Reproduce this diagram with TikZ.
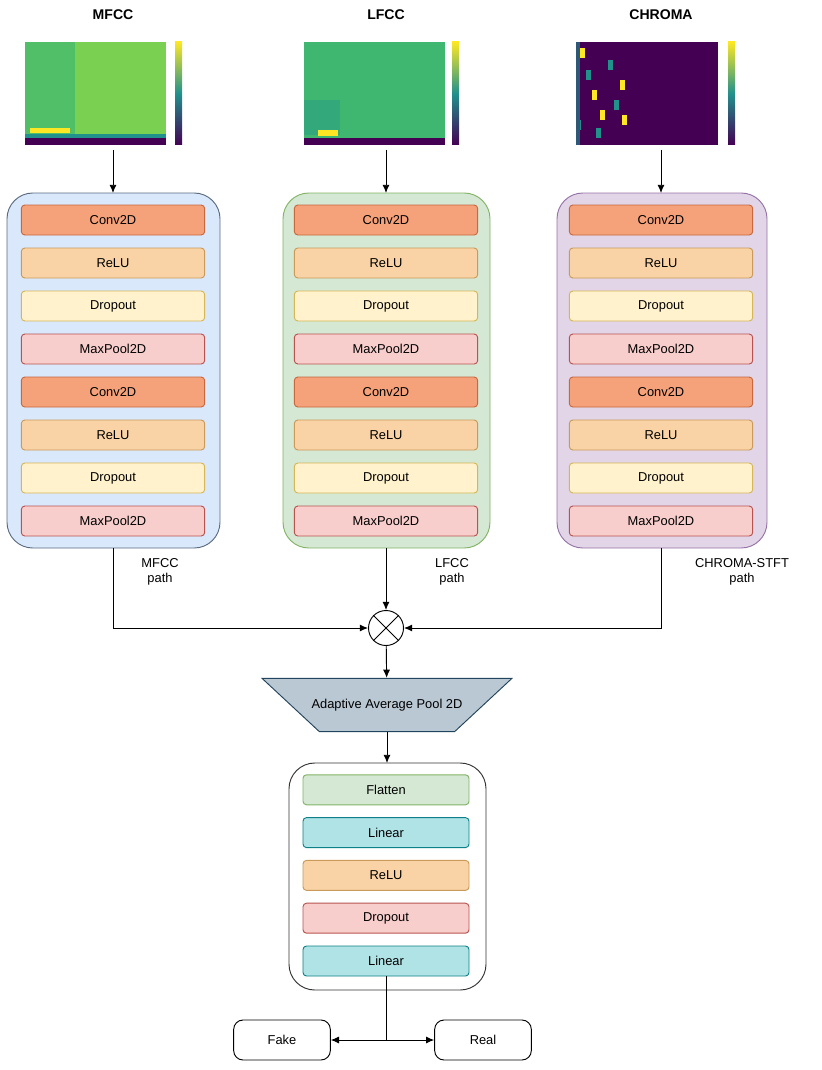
\documentclass[tikz,border=0pt]{standalone}
\usepackage{fontspec}
\setmainfont{Liberation Sans}
\usetikzlibrary{arrows.meta, calc, positioning, shapes.geometric}

\definecolor{convF}{HTML}{F5A27A}\definecolor{convD}{HTML}{C7683F}
\definecolor{reluF}{HTML}{F9D3A5}\definecolor{reluD}{HTML}{C99A5A}
\definecolor{dropF}{HTML}{FFF2CC}\definecolor{dropD}{HTML}{D6B656}
\definecolor{poolF}{HTML}{F8CECC}\definecolor{poolD}{HTML}{B85450}
\definecolor{flatF}{HTML}{D5E8D4}\definecolor{flatD}{HTML}{82B366}
\definecolor{linF}{HTML}{B0E3E6}\definecolor{linD}{HTML}{0E8088}
\definecolor{blueF}{HTML}{DAE8FC}\definecolor{blueD}{HTML}{5A6B80}
\definecolor{purpF}{HTML}{E1D5E7}\definecolor{purpD}{HTML}{9673A6}
\definecolor{trapF}{HTML}{BAC8D3}\definecolor{trapD}{HTML}{23445D}
\definecolor{vYel}{HTML}{FDE725}\definecolor{vTeal}{HTML}{21918C}
\definecolor{vPur}{HTML}{440154}\definecolor{vGrn}{HTML}{7AD151}
\definecolor{vGrn2}{HTML}{3FB770}

\tikzset{
  layer/.style={draw=#1D, fill=#1F, rounded corners=3pt, thick,
    minimum width=5.5cm, minimum height=0.9cm, font=\fontsize{11}{13}\selectfont},
  cont/.style={rounded corners=22pt, thick},
  lbl/.style={font=\fontsize{11}{13}\selectfont, align=center},
  arr/.style={-{Latex[length=7pt,width=6pt]}, thick},
  cbar/.style={top color=vYel, bottom color=vPur, middle color=vTeal},
}

\begin{document}
\begin{tikzpicture}[x=0.03cm, y=-0.03cm]
	\useasboundingbox (0,0) rectangle (822,1070);

	% titles
	\node[font=\bfseries\fontsize{12}{14}\selectfont] (tm) at (113,15) {MFCC};
	\node[font=\bfseries\fontsize{12}{14}\selectfont] (tl) at (386,15) {LFCC};
	\node[font=\bfseries\fontsize{12}{14}\selectfont] (tc) at (661,15) {CHROMA};

	% spectrograms
	\fill[vGrn] (25,42) rectangle (166,145);
	\fill[vGrn2!70!vGrn] (25,42) rectangle (75,135);
	\fill[vYel] (30,128) rectangle (70,133);
	\fill[vTeal] (25,134) rectangle (166,138);
	\fill[vPur] (25,138) rectangle (166,145);
	\shade[cbar] (175,42) rectangle (182,145);
	\coordinate (sm) at (113,150);

	\fill[vGrn2] (304,42) rectangle (445,145);
	\fill[vGrn2!60!vTeal] (304,100) rectangle (340,135);
	\fill[vYel] (318,130) rectangle (338,136);
	\fill[vPur] (304,138) rectangle (445,145);
	\shade[cbar] (452,42) rectangle (459,145);
	\coordinate (sl) at (386,150);

	\fill[vPur] (576,42) rectangle (718,145);
	\foreach \c/\yy/\col in {580/48/vYel, 586/70/vTeal, 592/90/vYel, 600/110/vYel, 608/60/vTeal,
	                         614/100/vTeal, 620/80/vYel, 576/120/vTeal, 596/128/vTeal, 622/115/vYel}
		\fill[\col] (\c,\yy) rectangle ++(5,10);
	\fill[vTeal!60!vPur] (576,42) rectangle (580,145);
	\shade[cbar] (728,42) rectangle (735,145);
	\coordinate (sc) at (661,150);

	% containers
	\draw[cont, draw=blueD, fill=blueF] (7,193) rectangle (220,548);
	\draw[cont, draw=flatD, fill=flatF] (283,193) rectangle (490,548);
	\draw[cont, draw=purpD, fill=purpF] (557,193) rectangle (767,548);
	\coordinate (bm) at (113,548);
	\coordinate (bl) at (386,548);
	\coordinate (bc) at (661,548);

	% layers
	\foreach \col/\x in {m/113, l/386, c/661} {
		\foreach \i/\s/\t in {1/conv/Conv2D, 2/relu/ReLU, 3/drop/Dropout, 4/pool/MaxPool2D,
		                      5/conv/Conv2D, 6/relu/ReLU, 7/drop/Dropout, 8/pool/MaxPool2D}
			\node[layer=\s] (\col\i) at (\x,{177+43*\i}) {\t};
	}

	\draw[arr] (sm) -- (113,193);
	\draw[arr] (sl) -- (386,193);
	\draw[arr] (sc) -- (661,193);

	\node[lbl] (pm) at (160,572) {MFCC\\path};
	\node[lbl] (pl) at (452,572) {LFCC\\path};
	\node[lbl] (pc) at (742,572) {CHROMA-STFT\\path};

	% merge
	\node[draw, thick, circle, minimum size=1.05cm, fill=white] (mul) at (386,628) {};
	\draw[thick] (mul.north west) -- (mul.south east) (mul.north east) -- (mul.south west);
	\draw[arr] (bm) |- (mul);
	\draw[arr] (bc) |- (mul);
	\draw[arr] (bl) -- (mul);

	\node[trapezium, shape border rotate=180, draw=trapD, fill=trapF, thick,
	      trapezium left angle=67, trapezium right angle=67, trapezium stretches=true,
	      minimum width=7.5cm, minimum height=1.6cm, font=\fontsize{11}{13}\selectfont]
	      (aap) at (387,705) {};
	\node[font=\fontsize{11}{13}\selectfont] (aapt) at (aap.center) {Adaptive Average Pool 2D};
	\draw[arr] (mul) -- (aap);

	% head
	\draw[cont, draw=black!80, fill=white] (289,763) rectangle (486,990);
	\coordinate (hd) at (387,763);
	\draw[arr] (aap) -- (hd);
	\foreach \i/\s/\t in {1/flat/Flatten, 2/lin/Linear, 3/relu/ReLU, 4/pool/Dropout, 5/lin/Linear}
		\node[layer=\s, minimum width=4.98cm] (h\i) at (386,{747+42.8*\i}) {\t};

	\node[draw, thick, rounded corners=8pt, minimum width=2.9cm, minimum height=1.2cm,
	      font=\fontsize{11}{13}\selectfont] (fake) at (282,1040) {Fake};
	\node[draw, thick, rounded corners=8pt, minimum width=2.9cm, minimum height=1.2cm,
	      font=\fontsize{11}{13}\selectfont] (real) at (483,1040) {Real};
	\coordinate (sp) at (386,1040);
	\draw[thick] (h5) -- (sp);
	\draw[arr] (sp) -- (fake);
	\draw[arr] (sp) -- (real);
\end{tikzpicture}
\end{document}
